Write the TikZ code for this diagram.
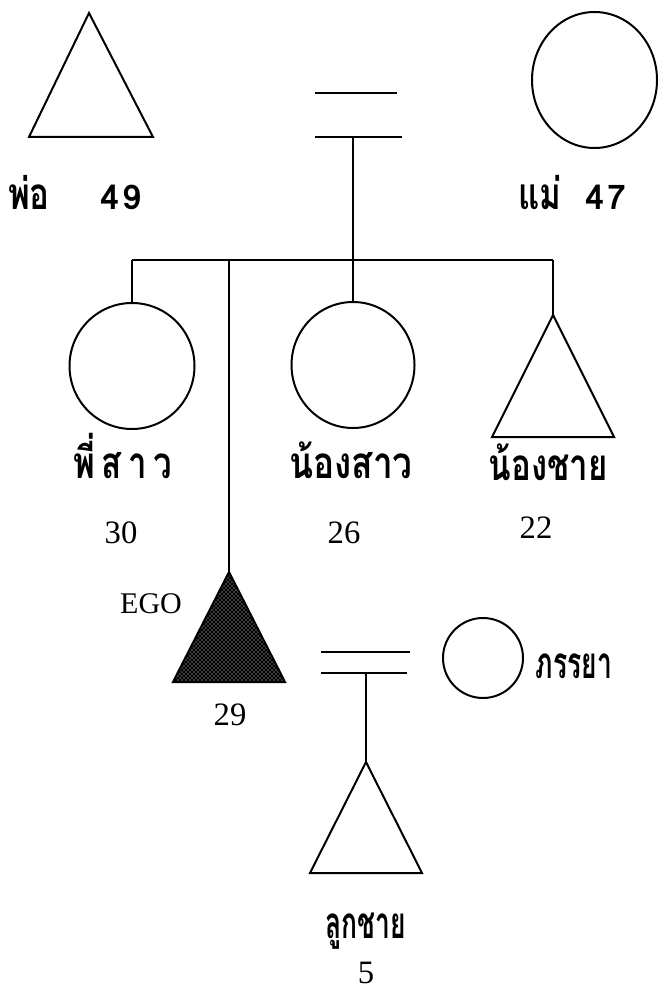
\documentclass[tikz,border=0pt]{standalone}
\usepackage{fontspec}
\setmainfont{Liberation Serif}
\newfontfamily\thaiN[Script=Thai]{Loma}
\newfontfamily\thaiA[Script=Thai,FakeStretch=0.75]{Loma}
\newfontfamily\thaiB[Script=Thai,FakeStretch=0.6]{Loma}
\newfontfamily\thaiC[Script=Thai,FakeStretch=0.8]{Loma}
\usetikzlibrary{patterns,shapes.geometric}
\begin{document}
\begin{tikzpicture}[x=0.75pt,y=-0.75pt,
  shp/.style={draw=black, line width=1.5pt},
  con/.style={draw=black, line width=1pt},
  mar/.style={draw=black, line width=1.9pt},
  fem/.style={shp, ellipse, inner sep=0pt, outer sep=0pt},
  thlab/.style={font=\thaiA\bfseries\fontsize{33}{36}\selectfont, anchor=base, inner sep=0pt},
  thtight/.style={font=\thaiB\bfseries\fontsize{33}{36}\selectfont, anchor=base, inner sep=0pt},
  thwide/.style={font=\thaiC\bfseries\fontsize{33}{36}\selectfont, anchor=base, inner sep=0pt},
  thnum/.style={font=\thaiN\bfseries\fontsize{25.5}{30}\selectfont, anchor=base, inner sep=0pt},
  num/.style={font=\fontsize{24.5}{30}\selectfont, anchor=base, inner sep=0pt},
  egolab/.style={font=\fontsize{22.5}{27}\selectfont, anchor=base, inner sep=0pt}
]
\useasboundingbox (0,0) rectangle (661,994);

% parents
\coordinate (faA) at (89,13);
\draw[shp] (faA) -- (29,137) -- (153,137) -- cycle;
\node[fem, minimum width=0.75pt*125, minimum height=0.75pt*136] (mo) at (594.5,80) {};
\coordinate (m1a) at (315,93);  \coordinate (m1b) at (397,93);
\coordinate (m1c) at (315,137); \coordinate (m1d) at (402,137);
\coordinate (m1m) at (353,137);
\draw[mar] (m1a) -- (m1b);
\draw[mar] (m1c) -- (m1d);

\node[thlab] (lfa) at (29,210) {พ่อ};
\node[thnum] (lfa49) at (121,210) {4\kern3pt 9};
\node[thlab] (lmo) at (540,210) {แม่};
\node[thnum] (lmo47) at (606,210) {4\kern3pt 7};

% sibling bar
\coordinate (barL) at (132,260);
\coordinate (barE) at (229,260);
\coordinate (barM) at (353,260);
\coordinate (barR) at (553,260);
\draw[con] (m1m) -- (barM);
\draw[con] (barL) -- (barR);

% siblings
\node[fem, minimum width=0.75pt*125, minimum height=0.75pt*126] (sis) at (132,366) {};
\node[fem, minimum width=0.75pt*123, minimum height=0.75pt*126] (ysis) at (353,365) {};
\coordinate (ybroA) at (553,315);
\draw[shp] (ybroA) -- (492,437) -- (614,437) -- cycle;
\draw[con] (barL) -- (sis.north);
\draw[con] (barM) -- (ysis.north);
\draw[con] (barR) -- (ybroA);

\node[thlab] (lsis) at (123,478) {พี่\kern5pt ส\kern5pt า\kern5pt ว};
\node[thwide] (lysis) at (351,478) {น้องสาว};
\node[thlab] (lybro) at (548,480) {น้องชาย};
\node[num] (n30) at (121,543) {30};
\node[num] (n26) at (344,543) {26};
\node[num] (n22) at (536,538) {22};

% ego
\coordinate (egoA) at (229,572);
\fill[black] (egoA) -- (173,682) -- (285,682) -- cycle;
\fill[pattern=crosshatch dots, pattern color=white] (egoA) -- (173,682) -- (285,682) -- cycle;
\draw[shp] (egoA) -- (173,682) -- (285,682) -- cycle;
\draw[con] (barE) -- (egoA);
\node[egolab] (lego) at (151,613) {EGO};
\node[num] (n29) at (230,725) {29};

% marriage 2
\coordinate (m2a) at (321,652); \coordinate (m2b) at (410,652);
\coordinate (m2c) at (321,673); \coordinate (m2d) at (407,673);
\coordinate (m2m) at (366,673);
\draw[mar] (m2a) -- (m2b);
\draw[mar] (m2c) -- (m2d);
\node[fem, minimum size=0.75pt*80] (wife) at (483,658) {};
\node[thtight] (lwife) at (574,678) {ภรรยา};

% son
\coordinate (sonA) at (366,762);
\draw[shp] (sonA) -- (310,873) -- (422,873) -- cycle;
\draw[con] (m2m) -- (sonA);
\node[thtight] (lson) at (366,938) {ลูกชาย};
\node[num] (n5) at (366,983) {5};
\end{tikzpicture}
\end{document}
